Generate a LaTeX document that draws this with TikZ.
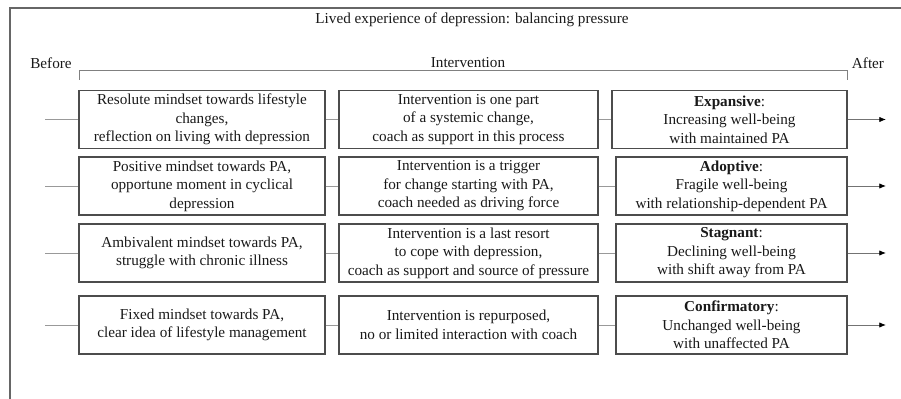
\documentclass[tikz,border=0pt]{standalone}
\usepackage{fontspec}
\setmainfont{Liberation Serif}
\usetikzlibrary{arrows.meta}
\begin{document}
\begin{tikzpicture}[x=0.75pt,y=-0.75pt,
  every node/.style={font=\fontsize{11.4}{13.8}\selectfont, text=black!90},
  box/.style={draw=black!70, line width=0.8pt, align=center, inner sep=0pt,
    minimum height=43.5pt},
  c1/.style={box, minimum width=184.5pt},
  c2/.style={box, minimum width=194.25pt},
  c3/.style={box, minimum width=173.25pt},
  link/.style={draw=black!40, line width=0.6pt},
  outarrow/.style={link, draw=black!55,
    -{Latex[length=5pt,width=4pt,color=black]}},
  frame/.style={draw=black!60, line width=1.3pt}]
\useasboundingbox (0,0) rectangle (901,399);

% outer frame (left and top edges)
\draw[frame] (10,399) -- (10,8) -- (901,8);

% headings
\node (title) at (472,20) {Lived experience of depression: balancing pressure};
\node (before) at (51,63) {Before};
\node (interv) at (468,63) {Intervention};
\node (after) at (868,63) {After};

% bracket spanning the intervention period
\draw[draw=black!50, line width=0.7pt] (79,80) -- (79,70) -- (847,70) -- (847,80);

% row 1
\node[c1] (a1) at (202,119.5) {Resolute mindset towards lifestyle\\changes,\\reflection on living with depression};
\node[c2] (b1) at (468.5,119.5) {Intervention is one part\\of a systemic change,\\coach as support in this process};
\node[box, minimum width=176.25pt] (d1) at (729.5,119.5) {\textbf{Expansive}:\\Increasing well-being\\with maintained PA};

% row 2
\node[c1] (a2) at (202,186) {Positive mindset towards PA,\\opportune moment in cyclical\\depression};
\node[c2] (b2) at (468.5,186) {Intervention is a trigger\\for change starting with PA,\\coach needed as driving force};
\node[c3] (d2) at (731.5,186) {\textbf{Adoptive}:\\Fragile well-being\\with relationship-dependent PA};

% row 3
\node[c1] (a3) at (202,253) {Ambivalent mindset towards PA,\\struggle with chronic illness};
\node[c2] (b3) at (468.5,253) {Intervention is a last resort\\to cope with depression,\\coach as support and source of pressure};
\node[c3] (d3) at (731.5,253) {\textbf{Stagnant}:\\Declining well-being\\with shift away from PA};

% row 4
\node[c1] (a4) at (202,325) {Fixed mindset towards PA,\\clear idea of lifestyle management};
\node[c2] (b4) at (468.5,325) {Intervention is repurposed,\\no or limited interaction with coach};
\node[c3] (d4) at (731.5,325) {\textbf{Confirmatory}:\\Unchanged well-being\\with unaffected PA};

% incoming lines and outgoing arrows
\foreach \r/\y in {1/119.5,2/186,3/253,4/325}{
  \coordinate (in\r) at (45,\y);
  \coordinate (out\r) at (886,\y);
  \draw[link] (in\r) -- (a\r.west);
  \draw[link] (a\r.east) -- (b\r.west);
  \draw[link] (b\r.east) -- (d\r.west);
  \draw[outarrow] (d\r.east) -- (out\r);
}
\end{tikzpicture}
\end{document}
